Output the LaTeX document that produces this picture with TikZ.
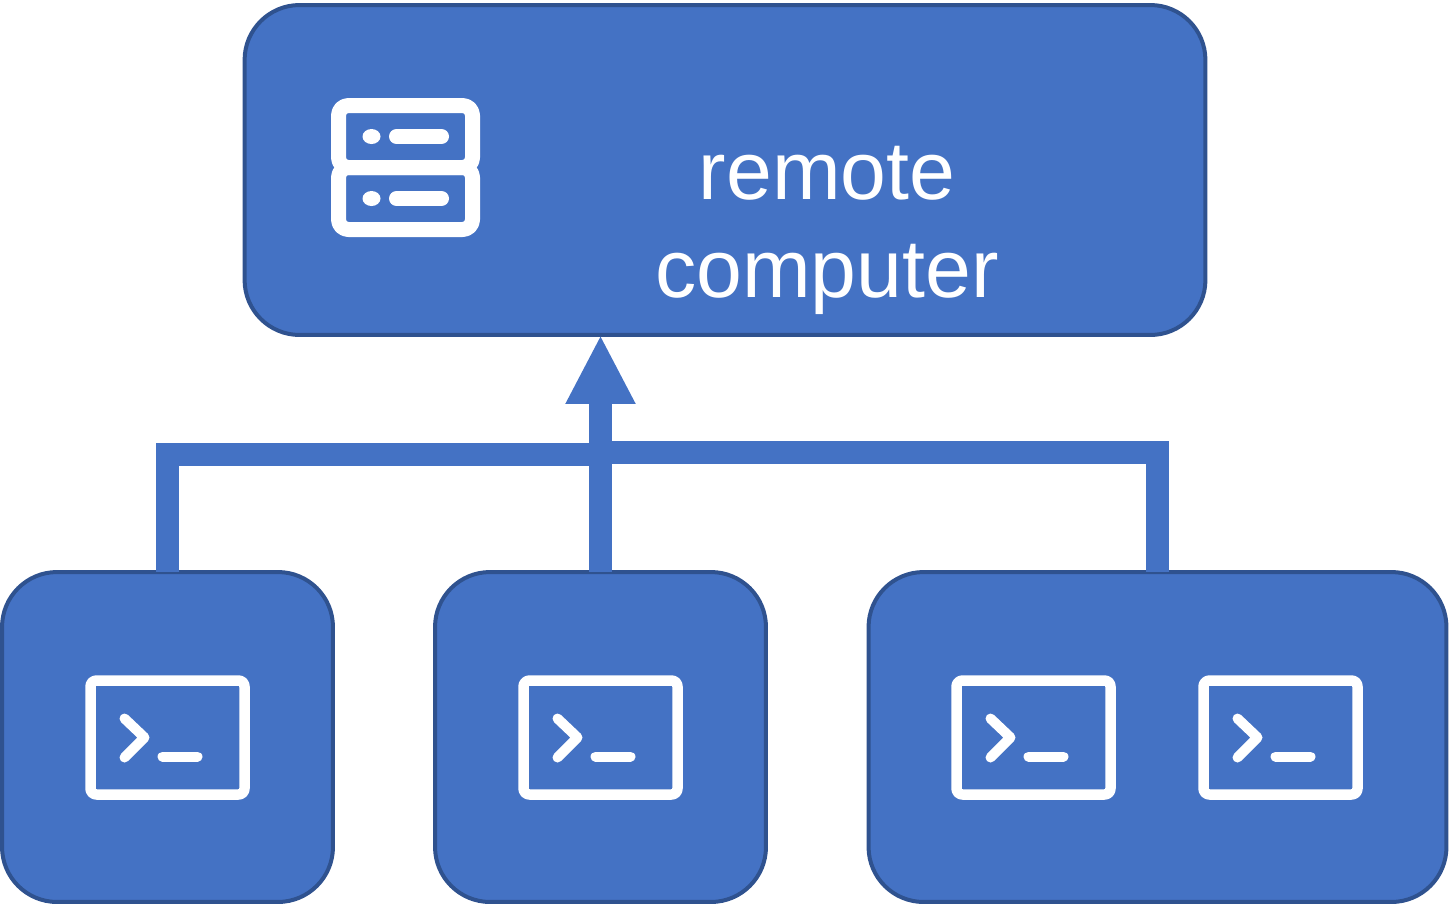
\documentclass[tikz,border=0pt]{standalone}
\usepackage{fontspec}
\setmainfont{Liberation Sans}
\usetikzlibrary{arrows.meta}
\definecolor{boxfill}{HTML}{4472C4}
\definecolor{boxline}{HTML}{2F528F}
\tikzset{
  box/.style={rectangle, rounded corners=1.1cm, draw=boxline, fill=boxfill, line width=0.08cm, outer sep=0pt},
  link/.style={draw=boxfill, line width=0.46cm},
  icon/.style={draw=white, line cap=round, line join=round},
  terminal/.pic={
    \draw[icon, line width=0.21cm, rounded corners=0.12cm] (-77,-57) rectangle (77,57);
    \draw[icon, line width=0.2cm] (-43,-19) -- (-23,0) -- (-43,20);
    \draw[icon, line width=0.2cm] (-5,19) -- (30,19);
  },
  serverrow/.pic={
    \draw[icon, line width=0.3cm, rounded corners=0.2cm] (-67,-31) rectangle (67,31);
    \fill[white] (-34,0) ellipse [x radius=0.18cm, y radius=0.15cm];
    \draw[icon, line width=0.3cm] (-9,0) -- (36,0);
  }
}
\begin{document}
\begin{tikzpicture}[x=0.02cm, y=-0.02cm]
\useasboundingbox (0,0) rectangle (1452,907);
%Nodes
\node[box, minimum width=19.22cm, minimum height=6.6cm] (remote) at (725,170) {};
\node[box, minimum width=6.62cm, minimum height=6.6cm]  (left)   at (167.5,737) {};
\node[box, minimum width=6.62cm, minimum height=6.6cm]  (mid)    at (600.5,737) {};
\node[box, minimum width=11.56cm, minimum height=6.6cm] (right)  at (1157.5,737) {};
\node[text=white, align=center, font=\fontsize{46.9}{55.6}\selectfont] (label) at (827,230.5) {remote\\computer};
\coordinate (joinL) at (601,454);
\coordinate (joinR) at (601,452.5);
%Icons
\pic at (405.5,136.5) {serverrow};
\pic at (405.5,198.5) {serverrow};
\pic at (167.5,737.5) {terminal};
\pic at (600.5,737.5) {terminal};
\pic at (1033.5,737.5) {terminal};
\pic at (1280.5,737.5) {terminal};
%Lines
\draw[link] (left.north) |- (joinL);
\draw[link] (right.north) |- (joinR);
\draw[link, -{Triangle[length=1.38cm, width=1.3cm]}] (mid.north) -- (mid.north |- remote.south);
\end{tikzpicture}
\end{document}
